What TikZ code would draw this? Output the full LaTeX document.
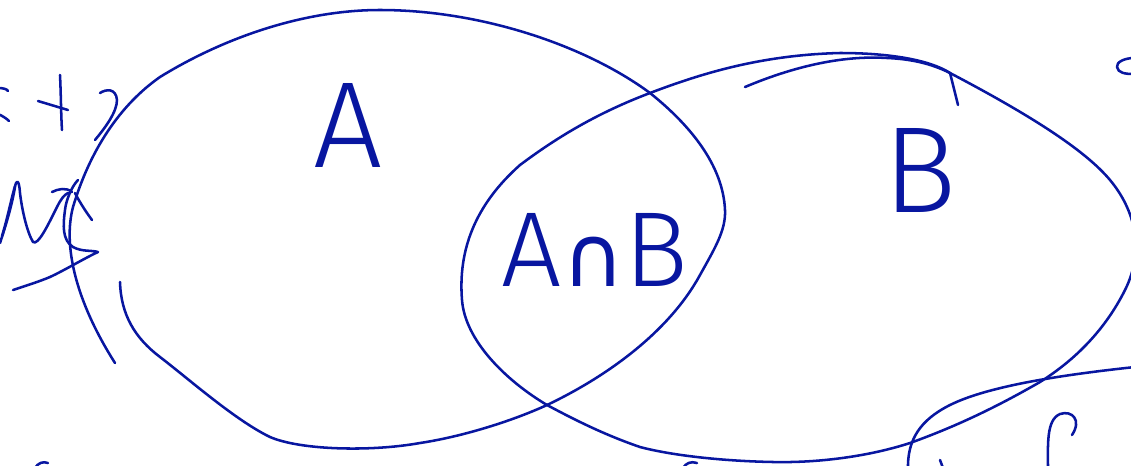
\documentclass[tikz,border=0pt]{standalone}
\usepackage{fontspec}
\newfontfamily\handfont[UprightFont={* Light}]{Fira Sans}
\newfontfamily\capfont{DejaVu Sans}
\definecolor{ink}{RGB}{8,22,160}

\tikzset{every picture/.style={line width=0.75pt}}
\tikzset{pen/.style={color=ink,line width=1.9pt,line cap=round,line join=round}}
\tikzset{handtext/.style={text=ink,inner sep=0.75pt,font=\handfont}}

\begin{document}
\begin{tikzpicture}[x=0.75pt,y=0.75pt,yscale=-1,xscale=1]
\useasboundingbox (0,0) rectangle (1131,465);

%Shape: set A
\draw [pen]   (120,282) .. controls (121,315) and (135,338) .. (160,357) .. controls (190,380) and (235,420) .. (270,437) .. controls (300,450) and (370,452) .. (420,443) .. controls (460,437) and (510,422) .. (547,405) .. controls (610,375) and (670,330) .. (700,275) .. controls (715,248) and (726,230) .. (725,210) .. controls (723,165) and (690,125) .. (650,93) .. controls (585,45) and (480,10) .. (380,10) .. controls (300,10) and (220,40) .. (160,77) .. controls (120,105) and (90,150) .. (73,207) .. controls (63,245) and (75,300) .. (115,363) ;
%Shape: set B
\draw [pen]   (745,87) .. controls (790,68) and (840,55) .. (887,58) .. controls (910,59) and (930,63) .. (950,73) ;
\draw [pen]   (950,73) .. controls (1030,115) and (1085,150) .. (1110,180) .. controls (1135,210) and (1145,250) .. (1125,290) .. controls (1105,330) and (1075,360) .. (1040,382) .. controls (1000,405) and (960,425) .. (910,443) .. controls (870,456) and (820,463) .. (773,462) .. controls (720,461) and (670,455) .. (640,447) .. controls (605,435) and (575,420) .. (547,405) .. controls (505,380) and (465,340) .. (462,300) .. controls (458,250) and (475,205) .. (520,165) .. controls (560,135) and (600,112) .. (650,93) .. controls (700,74) and (760,55) .. (840,53) .. controls (890,53) and (930,60) .. (950,73) ;
\draw [pen]   (950,73) -- (958,105) ;
%Shape: lower right
\draw [pen]   (1135,367) .. controls (1070,374) and (990,385) .. (950,405) .. controls (920,420) and (907,440) .. (908,470) ;
\draw [pen]   (1048,470) .. controls (1048,445) and (1046,420) .. (1060,414) .. controls (1072,410) and (1082,420) .. (1072,435) ;
\draw [pen]   (940,460) -- (943,468) ;
\draw [pen]   (1134,58) .. controls (1125,58) and (1116,62) .. (1117,67) .. controls (1118,73) and (1125,74) .. (1134,74) ;
%Shape: left margin scribbles
\draw [pen]   (-2,88) .. controls (3,88) and (7,89) .. (8,91) ;
\draw [pen]   (-2,114) .. controls (3,116) and (7,119) .. (9,121) ;
\draw [pen]   (60,75) .. controls (61,95) and (61,115) .. (62,130) ;
\draw [pen]   (38,101) .. controls (48,104) and (58,107) .. (68,110) ;
\draw [pen]   (100,93) .. controls (106,89) and (116,88) .. (117,100) .. controls (117,112) and (105,128) .. (95,140) ;
\draw [pen]   (0,243) .. controls (6,225) and (12,205) .. (15,187) .. controls (16,180) and (19,178) .. (20,193) .. controls (22,210) and (27,232) .. (33,242) .. controls (38,246) and (48,225) .. (57,207) .. controls (61,199) and (64,195) .. (68,193) ;
\draw [pen]   (2,236) .. controls (7,220) and (11,200) .. (15,186) ;
\draw [pen]   (52,192) .. controls (58,189) and (66,187) .. (72,192) ;
\draw [pen]   (78,180) .. controls (72,186) and (66,200) .. (65,210) .. controls (63,225) and (62,240) .. (73,247) .. controls (82,252) and (92,250) .. (98,252) .. controls (85,258) and (65,270) .. (50,277) .. controls (38,282) and (25,286) .. (13,290) ;
\draw [pen]   (75,193) .. controls (79,201) and (86,212) .. (92,220) ;
%Shape: bottom marks
\draw [pen]   (35,468) .. controls (38,463) and (43,461) .. (48,463) ;
\draw [pen]   (683,468) .. controls (686,463) and (691,461) .. (697,463) ;

% Text Node
\node [handtext,font=\handfont\fontsize{92}{96}\selectfont] (labelA) at (348,125) {A};
% Text Node
\node [handtext,font=\handfont\fontsize{92}{96}\selectfont] (labelB) at (920,170) {B};
% Text Node
\node [handtext,font=\handfont\fontsize{80}{84}\selectfont] (labelAB) at (595,250) {A{\capfont\fontsize{64}{68}\selectfont ∩}B};

\end{tikzpicture}
\end{document}
